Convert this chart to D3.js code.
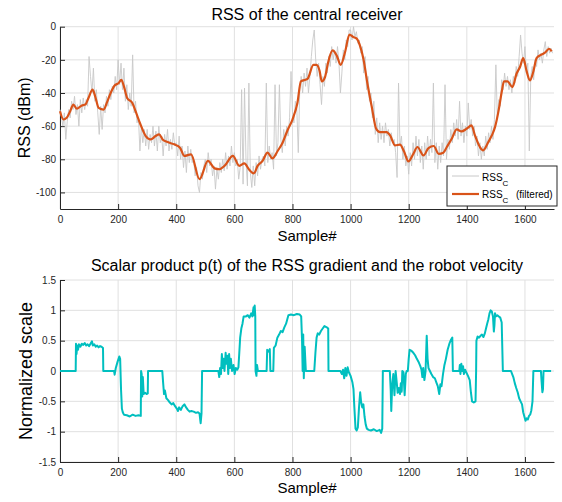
<!DOCTYPE html>
<html><head><meta charset="utf-8">
<script src="https://cdn.jsdelivr.net/npm/d3@7"></script>
<style>
body{margin:0;background:#fff}
svg{display:block}
text{font-family:"Liberation Sans",Arial,Helvetica,sans-serif}
</style>
</head><body>
<svg id="c" width="562" height="502"></svg>
<script>
// ---------- DATA ----------
const xTicks = [0,200,400,600,800,1000,1200,1400,1600];
const rssTicks = [0,-20,-40,-60,-80,-100];
const pTicks = [-1.5,-1,-0.5,0,0.5,1,1.5];

// raw RSS_C, one value every 5 samples (sample 0 .. 1695)
const rawStep = 5;
const rssRaw = [
-50,-54,-60,-52,-68,-57,-50,-55,-45,-50,-42,-53,-47,-60,-44,-52,-43,-50,-44,-48,
-18,-30,-40,-25,-45,-38,-52,-65,-48,-62,-47,-52,-42,-48,-38,-44,-36,-40,-30,-38,
-20,-35,-22,-38,-25,-45,-35,-50,-40,-48,-17,-52,-45,-58,-55,-75,-60,-70,-62,-72,
-62,-74,-65,-70,-60,-72,-63,-75,-60,-70,-66,-78,-65,-72,-62,-75,-68,-74,-64,-72,
-70,-78,-66,-80,-72,-85,-75,-88,-72,-82,-74,-82,-80,-90,-85,-96,-100,-88,-92,-84,
-80,-88,-76,-84,-80,-90,-84,-98,-86,-92,-82,-88,-80,-87,-76,-86,-78,-84,-72,-82,
-76,-84,-80,-92,-85,-38,-95,-37,-80,-96,-34,-88,-97,-84,-96,-82,-90,-78,-86,-80,
-78,-84,-34,-82,-72,-80,-76,-86,-35,-78,-70,-35,-68,-76,-62,-72,-60,-66,-55,-27,
-52,-58,-45,-50,-76,-38,-30,-40,-28,-36,-25,-40,-30,-18,-8,-2,-20,-30,-22,-35,
-47,-30,-36,-22,-28,-18,-24,-12,-20,-14,-22,-12,-22,-40,-28,-14,-20,-8,-12,-2,
-2,-8,0,-6,-3,-10,-8,-16,-12,-28,-18,-38,-30,-45,-40,-55,-45,-65,-55,-70,
-58,-68,-60,-70,-58,-66,-62,-72,-64,-70,-68,-76,-91,-34,-72,-66,-80,-72,-84,-78,
-89,-76,-84,-70,-80,-66,-78,-68,-82,-72,-86,-70,-80,-66,-78,-68,-76,-34,-82,-70,
-86,-72,-82,-70,-78,-35,-80,-68,-74,-62,-70,-58,-66,-56,-68,-45,-66,-58,-70,-60,
-66,-46,-62,-56,-66,-60,-72,-66,-78,-70,-80,-72,-78,-66,-74,-64,-70,-60,-68,-56,
-23,-55,-44,-48,-32,-38,-28,-36,-30,-38,-32,-40,-30,-34,-24,-30,-18,-5,-16,-22,
-12,-28,-22,-75,-30,-24,-32,-20,-24,-14,-20,-16,-22,-14,-9,-18,-12,-16,-13,-16
];

// filtered RSS_C : [sample, dBm]
const rssFiltered = [
[0,-51],[12,-56],[23,-55],[35,-51],[46,-47],[58,-49.5],[75,-47.5],[87,-47],[98,-43],[112,-38],
[121,-42],[133,-49],[150,-50],[162,-45.5],[173,-40.5],[188,-35.5],[202,-34],[211,-32],[220,-36],
[231,-43],[249,-46],[260,-51],[277,-59],[295,-66],[312,-68],[329,-66],[341,-65],[353,-68],
[370,-69.6],[393,-71],[413,-73],[428,-78],[451,-77],[480,-92],[509,-81],[532,-85.5],[549,-86],
[566,-84],[595,-78],[617,-84],[634,-82.5],[652,-86.5],[667,-88.5],[680,-84],[697,-81],[714,-76],
[731,-79.5],[749,-75],[766,-70],[783,-62.5],[800,-56],[817,-46],[829,-33],[852,-31.5],[872,-23],
[883,-23],[893,-26.4],[901,-33],[912,-30.4],[923,-21.3],[938,-14.3],[952,-17.3],[966,-23],
[981,-15.3],[996,-4.8],[1009,-6.2],[1021,-7.2],[1032,-11.3],[1044,-19.3],[1058,-34.4],[1073,-48.5],
[1088,-61.6],[1101,-63.6],[1124,-63.6],[1136,-65.6],[1153,-71.6],[1170,-71.2],[1184,-75.3],
[1199,-81.3],[1216,-76.7],[1230,-72.6],[1251,-77.7],[1268,-73.2],[1286,-72],[1303,-76.7],
[1319,-76],[1331,-72.6],[1348,-67.6],[1365,-62],[1382,-63.2],[1399,-61.6],[1416,-59.6],
[1428,-65.6],[1445,-72.6],[1456,-74.6],[1474,-69.6],[1486,-65.6],[1497,-60.6],[1511,-49],
[1520,-39.4],[1528,-33],[1540,-33],[1557,-36.4],[1571,-28.4],[1583,-24.3],[1594,-19],[1606,-27],
[1617,-32.4],[1629,-27],[1640,-19],[1655,-17],[1669,-15.7],[1683,-13.3],[1692,-14.9]
];

// scalar product p(t) : [sample, normalized]
const pScalar = [
[0,0],[54,0],[55,0.45],[57,0.28],[59,0.42],[62,0.35],[65,0.44],[70,0.40],[75,0.45],[80,0.43],[85,0.46],
[90,0.42],[95,0.44],[100,0.41],[105,0.45],[110,0.49],[113,0.42],[118,0.44],[123,0.40],[128,0.42],
[133,0.39],[138,0.41],[143,0.40],[148,0.38],[149,0],
[186,0],[188,-0.06],[192,0.05],[198,0.15],[204,0.24],[207,0.2],[210,-0.3],[213,-0.62],[216,-0.68],
[220,-0.72],[230,-0.73],[240,-0.75],[250,-0.72],[260,-0.74],[270,-0.73],[278,-0.74],[279,0],[281,-0.05],
[283,-0.42],[285,-0.1],[288,-0.38],[293,-0.36],[298,-0.38],[302,-0.37],[303,0],
[352,0],[355,-0.2],[358,-0.38],[361,-0.32],[366,-0.45],[372,-0.48],[378,-0.52],[384,-0.55],[390,-0.53],
[396,-0.58],[402,-0.62],[406,-0.66],[410,-0.6],[416,-0.64],[422,-0.58],[428,-0.55],[434,-0.6],[440,-0.64],
[446,-0.67],[452,-0.66],[460,-0.67],[468,-0.69],[475,-0.68],[480,-0.7],[484,-0.86],[487,-0.7],[489,0],
[545,0],[548,-0.1],[551,0.05],[554,-0.05],[557,0.28],[560,0.05],[563,0.2],[566,0.0],[570,0.3],[573,0.12],
[576,0.25],[579,-0.05],[582,0.28],[585,0.05],[588,0.2],[592,0.0],[597,0.1],[601,-0.05],[605,0.05],
[610,0.02],[614,0.06],[617,0.3],[620,0.55],[624,0.7],[628,0.78],[632,0.9],[640,0.9],[646,0.92],
[652,0.88],[658,0.95],[662,0.9],[666,1.05],[668,0.92],[670,1.08],[672,0.9],[673,0],[676,-0.08],
[678,0.1],[681,0],
[711,0],[713,0.35],[718,0.32],[722,0.36],[724,0],[734,0],[736,0.38],[742,0.42],[748,0.55],[754,0.6],
[760,0.66],[766,0.64],[772,0.72],[778,0.78],[782,0.85],[786,0.92],[795,0.93],[805,0.92],[815,0.94],
[825,0.93],[830,0.9],[833,0.5],[835,0],[837,0.6],[839,-0.12],[842,0.4],[846,0],
[875,0],[879,0.3],[883,0.55],[887,0.62],[892,0.6],[898,0.66],[904,0.7],[910,0.74],[918,0.72],[923,0.7],[924,0],
[965,0],[970,-0.05],[974,0.02],[978,-0.12],[982,0.05],[986,-0.08],[990,0.06],[994,-0.02],[1000,-0.08],
[1006,-0.18],[1010,-0.3],[1013,-0.6],[1017,-0.95],[1021,-0.98],[1025,-0.93],[1029,-0.6],[1033,-0.35],
[1036,-0.5],[1040,-0.6],[1044,-0.55],[1048,-0.75],[1052,-0.88],[1056,-0.95],[1062,-0.97],[1070,-0.98],
[1080,-0.96],[1090,-0.99],[1100,-0.97],[1105,-1.02],[1109,-0.95],[1111,0],
[1135,0],[1138,-0.3],[1140,-0.66],[1143,-0.25],[1147,-0.05],[1151,-0.4],[1155,0],[1159,-0.2],[1162,-0.36],
[1166,-0.28],[1170,-0.38],[1173,-0.2],[1176,-0.34],[1178,0],[1182,-0.02],[1186,-0.4],[1190,-0.05],[1193,0],
[1197,0],[1200,0.2],[1203,0.35],[1210,0.33],[1216,0.3],[1222,0.26],[1228,0.2],[1234,0.15],[1240,0.08],
[1244,0.02],[1247,-0.1],[1250,0.05],[1254,-0.15],[1258,0.0],[1262,0.58],[1265,0.2],[1268,0.05],[1273,0.0],
[1278,-0.05],[1284,-0.1],[1290,-0.12],[1296,-0.2],[1300,-0.25],[1305,-0.38],[1309,-0.22],[1313,-0.25],
[1318,-0.05],[1323,0.1],[1328,0.2],[1334,0.35],[1340,0.45],[1346,0.52],[1350,0.55],[1352,0],
[1374,0],[1376,0.1],[1378,-0.05],[1381,0.12],[1384,0.0],[1387,0.08],[1390,-0.05],[1394,0.02],[1398,-0.02],
[1404,-0.08],[1410,-0.15],[1414,-0.35],[1418,-0.5],[1424,-0.52],[1430,-0.5],[1432,0],[1433,0.5],
[1437,0.57],[1442,0.55],[1447,0.58],[1452,0.6],[1457,0.56],[1462,0.62],[1466,0.7],[1470,0.78],
[1474,0.85],[1478,0.95],[1482,1.0],[1486,0.98],[1490,0.9],[1493,0.65],[1495,0.75],[1497,0.95],
[1500,0.9],[1505,0.92],[1510,0.9],[1515,0.88],[1520,0.8],[1524,0],
[1552,0],[1556,-0.05],[1560,-0.1],[1565,-0.2],[1570,-0.28],[1575,-0.35],[1580,-0.45],[1585,-0.5],
[1590,-0.55],[1594,-0.68],[1598,-0.75],[1602,-0.82],[1606,-0.78],[1610,-0.8],[1614,-0.74],[1618,-0.72],
[1622,-0.65],[1626,-0.5],[1629,0],[1655,0],[1657,-0.15],[1660,-0.35],[1662,-0.3],[1664,0],[1690,0]
];

// ---------- DRAW ----------
const svg = d3.select("#c");
const AX = "#262626", GRID = "#e0e0e0";
const x = d3.scaleLinear().domain([0,1700]).range([60,554]);
const yTop = d3.scaleLinear().domain([-110,0]).range([209,26.7]);
const yBot = d3.scaleLinear().domain([-1.5,1.5]).range([462,280]);
const fmt = d => String(d);

function panel(y, yTicks, title, titleY, ylabel, ylabelX, ylabelSize, xlabelY){
  const g = svg.append("g");
  const [yb, yt] = y.range();
  g.selectAll(".gx").data(xTicks).enter().append("line")
    .attr("x1", d=>x(d)).attr("x2", d=>x(d)).attr("y1", yb).attr("y2", yt)
    .attr("stroke", GRID).attr("stroke-width", 1);
  g.selectAll(".gy").data(yTicks).enter().append("line")
    .attr("x1", x.range()[0]).attr("x2", x.range()[1]).attr("y1", d=>y(d)).attr("y2", d=>y(d))
    .attr("stroke", GRID).attr("stroke-width", 1);
  const ax = g.append("g").attr("transform", `translate(0,${yb})`)
    .call(d3.axisBottom(x).tickValues(xTicks).tickSizeInner(-5).tickSizeOuter(0).tickPadding(7).tickFormat(fmt));
  const ay = g.append("g").attr("transform", `translate(${x.range()[0]},0)`)
    .call(d3.axisLeft(y).tickValues(yTicks).tickSizeInner(-5).tickSizeOuter(0).tickPadding(4).tickFormat(fmt));
  [ax, ay].forEach(a => {
    a.attr("font-family", null).attr("font-size", null);
    a.select(".domain").attr("stroke", AX);
    a.selectAll(".tick line").attr("stroke", AX);
    a.selectAll(".tick text").attr("fill", AX).style("font-size", "10px");
  });
  svg.append("text").attr("x", 307).attr("y", titleY).attr("text-anchor","middle")
    .style("font-size","16px").attr("fill","#000").text(title);
  svg.append("text").attr("x", 307).attr("y", xlabelY).attr("text-anchor","middle")
    .style("font-size","15px").attr("fill","#000").text("Sample#");
  svg.append("text").attr("transform", `translate(${ylabelX},${(yb+yt)/2}) rotate(-90)`).attr("text-anchor","middle")
    .style("font-size", ylabelSize).attr("fill","#000").text(ylabel);
  return g;
}

// top panel
panel(yTop, rssTicks, "RSS of the central receiver", 19.5, "RSS (dBm)", 29.5, "16px", 241);
const dataLayer1 = svg.append("g");
dataLayer1.append("path").datum(rssRaw)
  .attr("d", d3.line().x((d,i)=>x(i*rawStep)).y(d=>yTop(d)))
  .attr("fill","none").attr("stroke","#c8c8c8").attr("stroke-width",0.9);
dataLayer1.append("path").datum(rssFiltered)
  .attr("d", d3.line().x(d=>x(d[0])).y(d=>yTop(d[1])).curve(d3.curveMonotoneX))
  .attr("fill","none").attr("stroke","#D95319").attr("stroke-width",2.2).attr("stroke-linejoin","round");

// legend
const lg = svg.append("g");
lg.append("rect").attr("x",447).attr("y",166).attr("width",110).attr("height",40)
  .attr("fill","#fff").attr("stroke",AX).attr("stroke-width",1);
lg.append("line").attr("x1",452).attr("x2",479).attr("y1",176).attr("y2",176)
  .attr("stroke","#c8c8c8").attr("stroke-width",1);
lg.append("line").attr("x1",452).attr("x2",479).attr("y1",194).attr("y2",194)
  .attr("stroke","#D95319").attr("stroke-width",2.2);
const t1 = lg.append("text").attr("x",482).attr("y",180.5).style("font-size","10px").attr("fill","#000");
t1.append("tspan").text("RSS");
t1.append("tspan").attr("dy",5.5).style("font-size","8px").text("C");
const t2 = lg.append("text").attr("x",482).attr("y",197.5).style("font-size","10px").attr("fill","#000");
t2.append("tspan").text("RSS");
t2.append("tspan").attr("dy",5.5).style("font-size","8px").text("C");
t2.append("tspan").attr("x",516).attr("dy",-5.5).style("font-size","10px").text("(filtered)");

// bottom panel
panel(yBot, pTicks, "Scalar product p(t) of the RSS gradient and the robot velocity", 271, "Normalized scale", 31.5, "18px", 493);
svg.append("path").datum(pScalar)
  .attr("d", d3.line().x(d=>x(d[0])).y(d=>yBot(d[1])))
  .attr("fill","none").attr("stroke","#00BFBF").attr("stroke-width",2).attr("stroke-linejoin","round");
</script>
</body></html>
